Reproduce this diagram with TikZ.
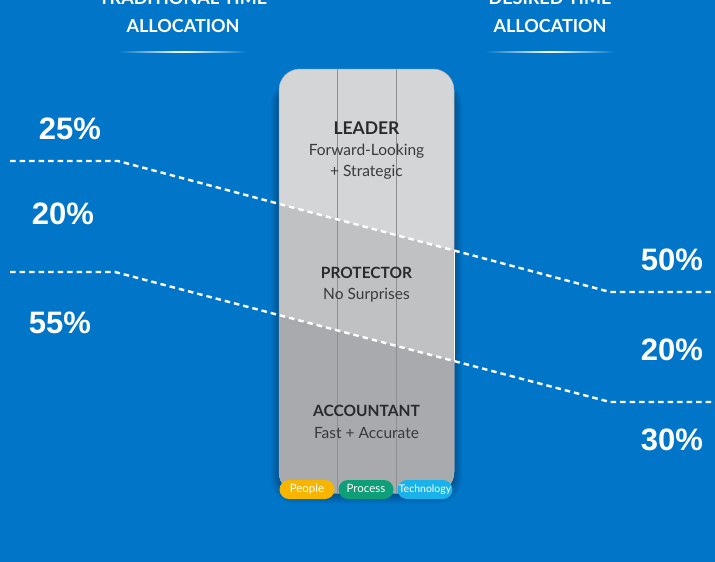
\documentclass[tikz,border=0pt]{standalone}
\usepackage{fontspec}
\setmainfont{Lato}
\newfontfamily\numfont{Liberation Sans}
\definecolor{bg}{HTML}{0176C9}
\definecolor{bandtop}{HTML}{D4D5D7}
\definecolor{bandmid}{HTML}{C0C1C3}
\definecolor{bandlow}{HTML}{A9AAAD}
\definecolor{divider}{HTML}{8E8F92}
\definecolor{titletext}{HTML}{2A2A2C}
\definecolor{subtext}{HTML}{3A3A3C}
\definecolor{pillpeople}{HTML}{F7B500}
\definecolor{pillprocess}{HTML}{0E9E78}
\definecolor{pilltech}{HTML}{1AB2EA}
\tikzset{
  header/.style={white, font=\bfseries\fontsize{18}{22}\selectfont, anchor=base},
  pct/.style={white, font=\numfont\bfseries\fontsize{31}{36}\selectfont},
  role/.style={titletext, font=\bfseries\fontsize{15.5}{19}\selectfont},
  duty/.style={subtext, font=\fontsize{15.5}{21}\selectfont, align=center},
  pill/.style={rounded corners=9.5pt, minimum width=55pt, minimum height=19pt,
    inner sep=0pt, text height=8pt, text depth=2.2pt, white,
    font=\fontsize{11.5}{13}\selectfont},
  split/.style={white, line width=2.4pt, dash pattern=on 5.5pt off 4pt},
}
\begin{document}
\begin{tikzpicture}[x=1pt,y=-1pt]
\fill[bg] (0,0) rectangle (715,562);
\useasboundingbox (0,0) rectangle (715,562);

% column headings, the first line running off the top edge
\begin{scope}
\clip (0,0) rectangle (715,562);
\node[header] (tradA) at (183,5) {TRADITIONAL TIME};
\node[header] (tradB) at (183,32) {ALLOCATION};
\node[header] (desA) at (550,5) {DESIRED TIME};
\node[header] (desB) at (550,32) {ALLOCATION};
\end{scope}
\shade[left color=bg, right color=bg, middle color=white] (118,51.2) rectangle (247,52.8);
\shade[left color=bg, right color=bg, middle color=white] (485,51.2) rectangle (615,52.8);

% soft shadow under the pillar
\foreach \i in {1,...,8}{
  \fill[black, opacity=0.035, rounded corners=24pt]
    (279-\i,80) rectangle (454+\i,494+\i*1.2);
}

% pillar with three slanted bands
\begin{scope}
\clip[rounded corners=21pt] (279,69) rectangle (454,493);
\fill[bandtop] (270,60) rectangle (460,500);
\fill[bandmid] (270,201.5) -- (279,203.9) -- (454,250.5) -- (460,252.1) -- (460,500) -- (270,500) -- cycle;
\fill[bandlow] (270,312.7) -- (279,315.1) -- (454,361.0) -- (460,362.6) -- (460,500) -- (270,500) -- cycle;
\draw[divider, line width=0.7pt] (337,60) -- (337,500);
\draw[divider, line width=0.7pt] (396,60) -- (396,500);
\end{scope}
\draw[divider!70, line width=0.5pt, rounded corners=21pt] (279,69) rectangle (454,493);
\draw[white, line width=1pt] (454,250.5) -- (454,361);

% role labels
\node[role, font=\bfseries\fontsize{17.5}{21}\selectfont] (leader) at (366.5,128) {LEADER};
\node[duty] (leaderd) at (366.5,162) {Forward-Looking\\+ Strategic};
\node[role] (protector) at (366.5,273) {PROTECTOR};
\node[duty] (protectord) at (366.5,295) {No Surprises};
\node[role] (accountant) at (366.5,411) {ACCOUNTANT};
\node[duty] (accountantd) at (366.5,433) {Fast + Accurate};

% pills along the base
\node[pill, fill=pillpeople] (people) at (307,489.5) {People};
\node[pill, fill=pillprocess] (process) at (366,489.5) {Process};
\node[pill, fill=pilltech, font=\fontsize{10.5}{12}\selectfont] (tech) at (425,489.5) {Technology};

% split lines between shares
\coordinate (a0) at (10,161);
\coordinate (a1) at (118,161);
\coordinate (a2) at (610,292);
\coordinate (a3) at (715,292);
\coordinate (b0) at (10,272);
\coordinate (b1) at (115,272);
\coordinate (b2) at (610,402);
\coordinate (b3) at (715,402);
\draw[split] (a0) -- (a1) -- (a2) -- (a3);
\draw[split] (b0) -- (b1) -- (b2) -- (b3);

% shares, traditional
\node[pct] (t25) at (70,129) {25\%};
\node[pct] (t20) at (63,214) {20\%};
\node[pct] (t55) at (60,323) {55\%};
% shares, desired
\node[pct] (d50) at (672,260) {50\%};
\node[pct] (d20) at (672,350) {20\%};
\node[pct] (d30) at (672,440) {30\%};
\end{tikzpicture}
\end{document}
